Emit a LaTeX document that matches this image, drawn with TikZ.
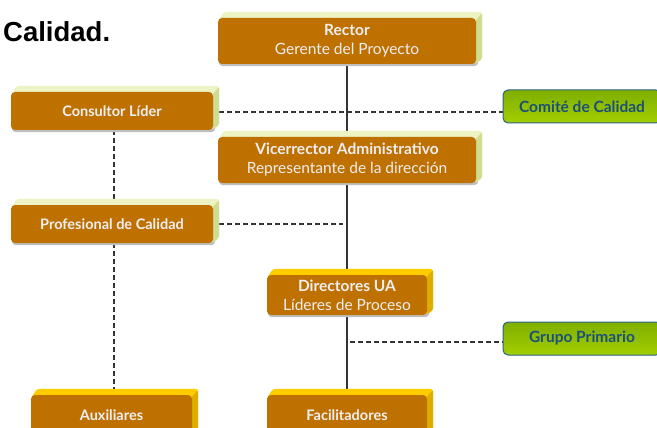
\documentclass[tikz,border=0pt]{standalone}
\usepackage{fontspec}
\setmainfont{Lato}
\newfontfamily\titlefont{Liberation Sans}
\usetikzlibrary{calc}
\definecolor{front}{HTML}{BF7100}
\definecolor{ftext}{HTML}{EEEEF4}
\definecolor{lgtop}{HTML}{EDF3C2}
\definecolor{lgside}{HTML}{CFDC92}
\definecolor{ytop}{HTML}{FFCC00}
\definecolor{yside}{HTML}{DDAE00}
\definecolor{gtop}{HTML}{7FAE00}
\definecolor{gbot}{HTML}{A2CF00}
\definecolor{gborder}{HTML}{2C6386}
\definecolor{gtext}{HTML}{1B4F7C}
\definecolor{linec}{HTML}{333333}
\pgfdeclarelayer{bg}
\pgfdeclarelayer{mid}
\pgfsetlayers{bg,mid,main}
\tikzset{
  orgbox/.style={fill=front, rounded corners=4pt, text=ftext, align=center,
    inner sep=0pt, font=\fontsize{15.5}{19}\selectfont},
  onebox/.style={orgbox, font=\fontsize{14.5}{17}\selectfont\bfseries},
  greenbox/.style={top color=gtop, bottom color=gbot, draw=gborder, line width=1pt,
    rounded corners=5pt, text=gtext, inner sep=0pt,
    font=\fontsize{15.5}{18}\selectfont\bfseries},
  solidline/.style={draw=linec, line width=1.6pt},
  dashline/.style={draw=linec, line width=1.5pt, dash pattern=on 5pt off 3pt},
}
\newcommand\bevel[3]{%
  \begin{pgfonlayer}{mid}
    \fill[black!25, rounded corners=4pt] ($(#1.south west)+(1,2)$) rectangle ($(#1.north east)+(2,2)$);
    \fill[#2, rounded corners=3pt] ($(#1.north west)+(0,4)$) -- ($(#1.north west)+(6,-6)$) -- ($(#1.north east)+(6,-6)$) -- ($(#1.south east)+(6,-5)$) -- ($(#1.south east)+(0,-1)$) -- cycle;
    \fill[#3, rounded corners=2pt] ($(#1.north east)+(-1,3)$) -- ($(#1.north east)+(6,-5)$) -- ($(#1.south east)+(6,-5)$) -- ($(#1.south east)+(-1,-1)$) -- cycle;
  \end{pgfonlayer}}
\begin{document}
\begin{tikzpicture}[x=1pt,y=-1pt]
\useasboundingbox (0,0) rectangle (657,428);
\begin{pgfonlayer}{bg}
\fill[white] (0,0) rectangle (657,428);
\end{pgfonlayer}

\node[anchor=base west, font=\titlefont\fontsize{27.5}{30}\selectfont\bfseries, inner sep=0pt] (title) at (3,42) {Calidad.};

\node[orgbox, minimum width=258, minimum height=46] (rector) at (347,41) {\textbf{Rector}\\Gerente del Proyecto};
\node[onebox, minimum width=202, minimum height=38] (consultor) at (112,111) {Consultor Líder};
\node[greenbox, minimum width=158, minimum height=33] (comite) at (582,106.5) {Comité de Calidad};
\node[orgbox, minimum width=258, minimum height=46] (vice) at (347,160) {\textbf{Vicerrector Administrativo}\\Representante de la dirección};
\node[onebox, minimum width=202, minimum height=38] (prof) at (112,224) {Profesional de Calidad};
\node[orgbox, minimum width=160, minimum height=40] (dir) at (347,295) {\textbf{Directores UA}\\Líderes de Proceso};
\node[greenbox, minimum width=158, minimum height=33] (grupo) at (582,338.5) {Grupo Primario};
\node[onebox, minimum width=161, minimum height=40] (aux) at (111.5,415) {Auxiliares};
\node[onebox, minimum width=160, minimum height=40] (fac) at (347,415) {Facilitadores};

\bevel{rector}{lgtop}{lgside}
\bevel{consultor}{lgtop}{lgside}
\bevel{vice}{lgtop}{lgside}
\bevel{prof}{lgtop}{lgside}
\bevel{dir}{ytop}{yside}
\bevel{aux}{ytop}{yside}
\bevel{fac}{ytop}{yside}

\coordinate (cl) at ($(consultor.south)+(2,0)$);
\coordinate (pl) at ($(prof.south)+(2,0)$);
\coordinate (ce) at ($(consultor.east)+(6,1)$);
\coordinate (pe) at ($(prof.east)+(6,0)$);
\coordinate (pr) at ($(rector.south)+(-4,0)$);
\coordinate (gp) at ($(dir.south)+(3,27)$);
\begin{pgfonlayer}{bg}
  \draw[solidline] (rector.south) -- (vice.north);
  \draw[solidline] (vice.south) -- (dir.north);
  \draw[solidline] (dir.south) -- (fac.north);
  \draw[dashline] (ce) -- (ce -| comite.west);
  \draw[dashline] (pe) -- (pe -| pr);
  \draw[dashline] (gp) -- (gp -| grupo.west);
  \draw[dashline] (cl) -- (cl |- prof.north);
  \draw[dashline] (pl) -- (pl |- aux.north);
\end{pgfonlayer}
\end{tikzpicture}
\end{document}
